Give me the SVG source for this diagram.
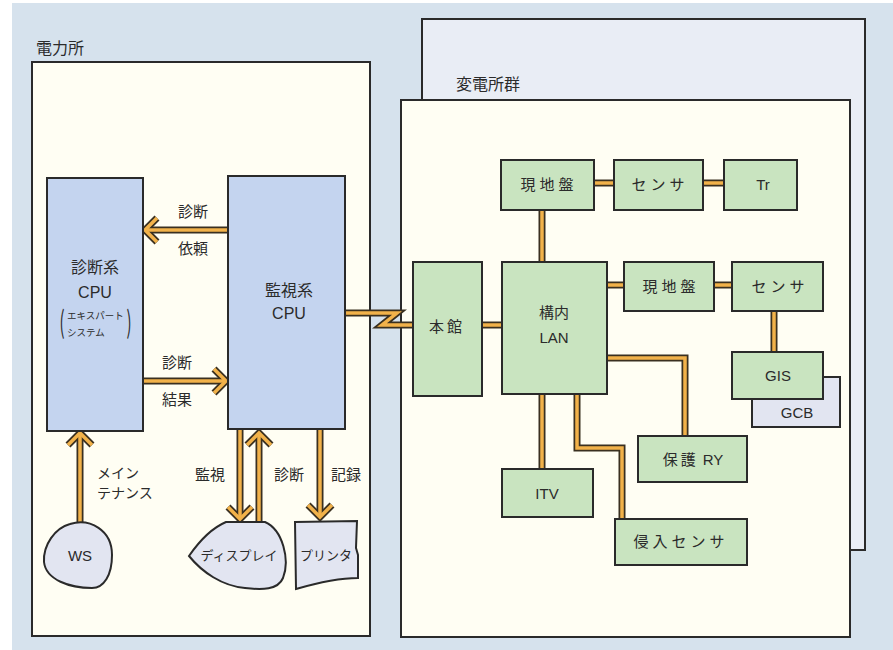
<svg xmlns="http://www.w3.org/2000/svg" width="893" height="650" viewBox="0 0 893 650">
<defs>
<style>
text{font-family:"Noto Sans CJK JP","Liberation Sans",sans-serif;fill:#2b2b2b;text-anchor:middle}
.lat{font-family:"Liberation Sans","Noto Sans CJK JP",sans-serif}
.panel{fill:#fffef3;stroke:#2a2a2a;stroke-width:2}
.back{fill:#e9edf5;stroke:#2a2a2a;stroke-width:2}
.cpu{fill:#c4d4ef;stroke:#2a2a2a;stroke-width:2}
.g{fill:#c9e4c0;stroke:#2a2a2a;stroke-width:2}
.lav{fill:#e2e5f1;stroke:#2a2a2a;stroke-width:2}
.bo{fill:none;stroke:#3a3020;stroke-width:7;stroke-linejoin:miter}
.bi{fill:none;stroke:#f2b24a;stroke-width:3.5;stroke-linejoin:miter}
.t15{font-size:15px}
.t14{font-size:14px}
</style>
</defs>
<rect x="0" y="0" width="893" height="650" fill="#ffffff"/>
<rect x="12" y="3" width="881" height="647" fill="#d6e2ed"/>

<g id="power-station">
<rect class="panel" x="32" y="62" width="338" height="574"/>
<text x="60" y="54" font-size="16">電力所</text>
</g>

<g id="substation-group">
<rect class="back" x="422" y="19" width="443" height="531"/>
<rect class="panel" x="401" y="100" width="449" height="537"/>
<text x="488" y="90" font-size="16">変電所群</text>
</g>

<g id="connectors">
<g class="bo">
<polyline points="228,230 146,230"/>
<polyline points="157,218 145,230 157,242"/>
<polyline points="143,381 225,381"/>
<polyline points="214,369 226,381 214,393"/>
<polyline points="80,522 80,434"/>
<polyline points="68,445 80,433 92,445"/>
<polyline points="240,430 240,518"/>
<polyline points="228,507 240,519 252,507"/>
<polyline points="259,522 259,434"/>
<polyline points="247,445 259,433 271,445"/>
<polyline points="320,430 320,516"/>
<polyline points="308,505 320,517 332,505"/>
<polyline points="345,313 397,313 382,325 413,325"/>
<polyline points="482,325 502,325"/>
<polyline points="594,183 614,183"/>
<polyline points="703,183 724,183"/>
<polyline points="542,210 542,262"/>
<polyline points="607,285 624,285"/>
<polyline points="714,285 732,285"/>
<polyline points="774,311 774,352"/>
<polyline points="607,358 685,358 685,436"/>
<polyline points="542,394 542,469"/>
<polyline points="577,394 577,448 622,448 622,519"/>
</g>
<g class="bi">
<polyline points="228,230 146,230"/>
<polyline points="157,218 145,230 157,242"/>
<polyline points="143,381 225,381"/>
<polyline points="214,369 226,381 214,393"/>
<polyline points="80,522 80,434"/>
<polyline points="68,445 80,433 92,445"/>
<polyline points="240,430 240,518"/>
<polyline points="228,507 240,519 252,507"/>
<polyline points="259,522 259,434"/>
<polyline points="247,445 259,433 271,445"/>
<polyline points="320,430 320,516"/>
<polyline points="308,505 320,517 332,505"/>
<polyline points="345,313 397,313 382,325 413,325"/>
<polyline points="482,325 502,325"/>
<polyline points="594,183 614,183"/>
<polyline points="703,183 724,183"/>
<polyline points="542,210 542,262"/>
<polyline points="607,285 624,285"/>
<polyline points="714,285 732,285"/>
<polyline points="774,311 774,352"/>
<polyline points="607,358 685,358 685,436"/>
<polyline points="542,394 542,469"/>
<polyline points="577,394 577,448 622,448 622,519"/>
</g>
<g class="t15">
<text x="193" y="217">診断</text>
<text x="193" y="254">依頼</text>
<text x="177" y="368">診断</text>
<text x="177" y="405">結果</text>
<text x="210" y="480">監視</text>
<text x="289" y="480">診断</text>
<text x="346" y="480">記録</text>
</g>
<text class="t14" x="97" y="478" style="text-anchor:start">メイン</text>
<text class="t14" x="97" y="498" style="text-anchor:start">テナンス</text>
</g>

<g id="diag-cpu">
<rect class="cpu" x="47" y="178" width="96" height="253"/>
<text x="95" y="273" font-size="16">診断系</text>
<text class="lat" x="95" y="298" font-size="16">CPU</text>
<text x="67" y="319" font-size="9.5" style="text-anchor:start">エキスパート</text>
<text x="67" y="336" font-size="9.5" style="text-anchor:start">システム</text>
<text x="0" y="0" font-size="30" transform="translate(62,333) scale(0.5,1)">(</text>
<text x="0" y="0" font-size="30" transform="translate(129,333) scale(0.5,1)">)</text>
</g>

<g id="monitor-cpu">
<rect class="cpu" x="228" y="176" width="117" height="253"/>
<text x="289" y="296" font-size="16">監視系</text>
<text class="lat" x="289" y="319" font-size="16">CPU</text>
</g>

<g id="ws">
<path class="lav" d="M70 524 C90 518 112 530 112 555 C112 575 104 588 92 588 C70 588 46 580 44 562 C43 545 55 528 70 524 Z"/>
<text class="lat" x="80" y="561" font-size="15">WS</text>
</g>

<g id="display">
<path class="lav" d="M226 522 L265 522 C283 530 290 560 283 578 C278 590 262 590 245 588 C222 586 202 572 189 556 C200 540 212 528 226 522 Z"/>
<text x="239" y="560" font-size="13">ディスプレイ</text>
</g>

<g id="printer">
<path class="lav" d="M295 522 L357 521 L356 548 L358 555 L358 578 C340 578 320 582 296 589 Z"/>
<text x="326" y="560" font-size="13">プリンタ</text>
</g>

<g id="honkan">
<rect class="g" x="413" y="262" width="69" height="134"/>
<text class="t15" x="447" y="332" letter-spacing="3">本館</text>
</g>

<g id="lan">
<rect class="g" x="502" y="262" width="105" height="132"/>
<text class="t15" x="554" y="318">構内</text>
<text class="t15 lat" x="554" y="343">LAN</text>
</g>

<g id="genchiban1">
<rect class="g" x="501" y="160" width="93" height="50"/>
<text class="t15" x="549" y="190" letter-spacing="4">現地盤</text>
</g>
<g id="sensor1">
<rect class="g" x="614" y="160" width="89" height="50"/>
<text class="t15" x="660" y="190" letter-spacing="4">センサ</text>
</g>
<g id="tr">
<rect class="g" x="724" y="160" width="73" height="50"/>
<text class="t15 lat" x="763" y="190">Tr</text>
</g>

<g id="genchiban2">
<rect class="g" x="624" y="262" width="90" height="49"/>
<text class="t15" x="671" y="292" letter-spacing="4">現地盤</text>
</g>
<g id="sensor2">
<rect class="g" x="732" y="262" width="91" height="49"/>
<text class="t15" x="780" y="292" letter-spacing="4">センサ</text>
</g>

<g id="gcb">
<rect class="lav" x="752" y="377" width="88" height="50"/>
<text class="t15 lat" x="797" y="418">GCB</text>
</g>
<g id="gis">
<rect class="g" x="732" y="352" width="91" height="47"/>
<text class="t15 lat" x="778" y="381">GIS</text>
</g>

<g id="hogo-ry">
<rect class="g" x="638" y="436" width="109" height="46"/>
<text class="t15" x="693" y="465"><tspan letter-spacing="3">保護</tspan><tspan font-family="Liberation Sans"> RY</tspan></text>
</g>

<g id="itv">
<rect class="g" x="502" y="469" width="91" height="48"/>
<text class="t15 lat" x="547" y="499">ITV</text>
</g>

<g id="shinyu-sensor">
<rect class="g" x="615" y="519" width="132" height="46"/>
<text class="t15" x="681" y="547" letter-spacing="4">侵入センサ</text>
</g>
</svg>
